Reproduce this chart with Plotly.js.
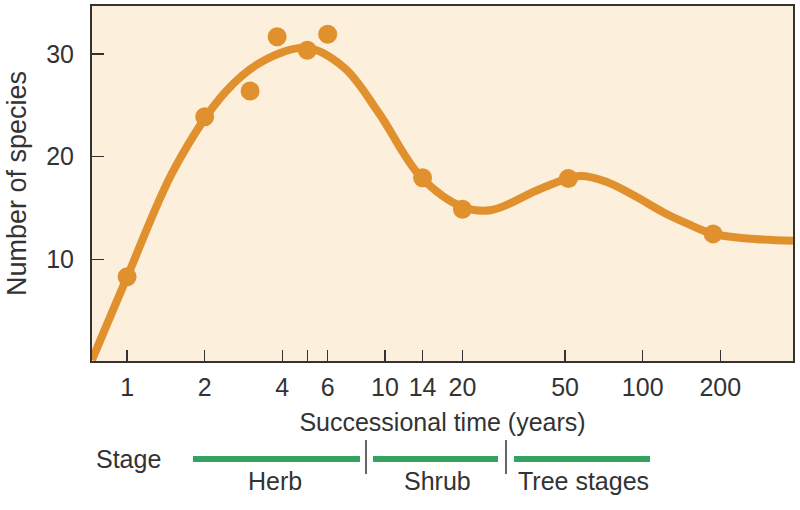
<!DOCTYPE html>
<html>
<head>
<meta charset="utf-8">
<script src="https://cdn.plot.ly/plotly-3.0.1.min.js"></script>
<style>html,body{margin:0;padding:0;background:#fff;}#chart{width:800px;height:510px;}</style>
</head>
<body>
<div id="chart"></div>
<script>
// Observed data points (successional time in years, number of species)
const pointYears   = [1, 2, 3, 3.82, 5, 6, 14, 20, 51.5, 187.5];
const pointSpecies = [8.3, 23.87, 26.37, 31.65, 30.34, 31.9, 17.93, 14.87, 17.87, 12.47];

// Smoothed trend curve
const curveYears   = [0.731, 1, 1.53, 2.406, 3.344, 5, 6.97, 9.465, 13.76, 20.27, 26, 40.2, 56.9, 72.6, 92.6, 121, 149, 187.5, 254, 382.8];
const curveSpecies = [0.2, 8.27, 18.87, 26.28, 29.25, 30.56, 28.62, 24.25, 18.03, 15.03, 14.8, 16.87, 18.1, 17.53, 16.2, 14.53, 13.47, 12.47, 12.03, 11.8];

// Axis ticks
const xTickVals  = [1, 2, 4, 5, 6, 10, 14, 20, 50, 100, 200];
const xTickText  = ['1', '2', '4', '', '6', '10', '14', '20', '50', '100', '200'];
const yTickVals  = [10, 20, 30];

// Stage labels
const stageNames = ['Herb', 'Shrub', 'Tree stages'];

const orange = '#e0912e';
const green = '#35a360';
const ink = '#333333';
const font = 'Liberation Sans, Arial, sans-serif';

const traces = [
  {
    x: curveYears, y: curveSpecies, type: 'scatter', mode: 'lines',
    line: {color: orange, width: 8, shape: 'spline', smoothing: 1},
    hoverinfo: 'skip', showlegend: false
  },
  {
    x: pointYears, y: pointSpecies, type: 'scatter', mode: 'markers',
    marker: {color: orange, size: 19},
    showlegend: false
  }
];

// Plot area spans paper 0..1; helper converts figure pixels to paper coords for decorations
const L = 92, R = 793, T = 6, B = 361;
const px = v => (v - L) / (R - L);
const py = v => (B - v) / (B - T);

const barY = py(459);
const bars = [[193, 360], [373, 498], [514, 650]];
const seps = [366, 506];

const shapes = [];
bars.forEach(b => shapes.push({type: 'line', xref: 'paper', yref: 'paper', x0: px(b[0]), x1: px(b[1]), y0: barY, y1: barY, line: {color: green, width: 6}}));
seps.forEach(s => shapes.push({type: 'line', xref: 'paper', yref: 'paper', x0: px(s), x1: px(s), y0: py(440), y1: py(474), line: {color: ink, width: 1.5}}));

const labelCenters = [275, 437, 583];
const annotations = [
  {text: 'Stage', xref: 'paper', yref: 'paper', x: px(128), y: py(459), showarrow: false, xanchor: 'center', yanchor: 'middle', font: {size: 25, color: ink, family: font}}
];
stageNames.forEach((n, i) => annotations.push({text: n, xref: 'paper', yref: 'paper', x: px(labelCenters[i]), y: py(481), showarrow: false, xanchor: 'center', yanchor: 'middle', font: {size: 25, color: ink, family: font}}));

const layout = {
  width: 800, height: 510,
  margin: {l: L, r: 800 - R, t: T, b: 510 - B, pad: 0},
  paper_bgcolor: '#ffffff',
  plot_bgcolor: '#fcefdb',
  font: {family: font, size: 25, color: ink},
  showlegend: false,
  xaxis: {
    type: 'log',
    range: [Math.log10(0.731), Math.log10(382.8)],
    tickmode: 'array', tickvals: xTickVals, ticktext: xTickText,
    ticks: 'inside', ticklen: 11, tickwidth: 1.5, tickcolor: ink,
    showline: true, linecolor: ink, linewidth: 2, mirror: true,
    showgrid: false, zeroline: false,
    ticklabelstandoff: 3,
    tickfont: {size: 25, color: ink},
    title: {text: 'Successional time (years)', font: {size: 25, color: ink}, standoff: 13}
  },
  yaxis: {
    range: [0.1, 34.65],
    tickmode: 'array', tickvals: yTickVals,
    ticks: 'inside', ticklen: 12, tickwidth: 1.5, tickcolor: ink,
    showline: true, linecolor: ink, linewidth: 2, mirror: true,
    showgrid: false, zeroline: false,
    ticklabelstandoff: 11,
    tickfont: {size: 25, color: ink},
    title: {text: 'Number of species', font: {size: 27, color: ink}, standoff: 12}
  },
  shapes: shapes,
  annotations: annotations
};

Plotly.newPlot('chart', traces, layout, {displayModeBar: false, staticPlot: true});
</script>
</body>
</html>
